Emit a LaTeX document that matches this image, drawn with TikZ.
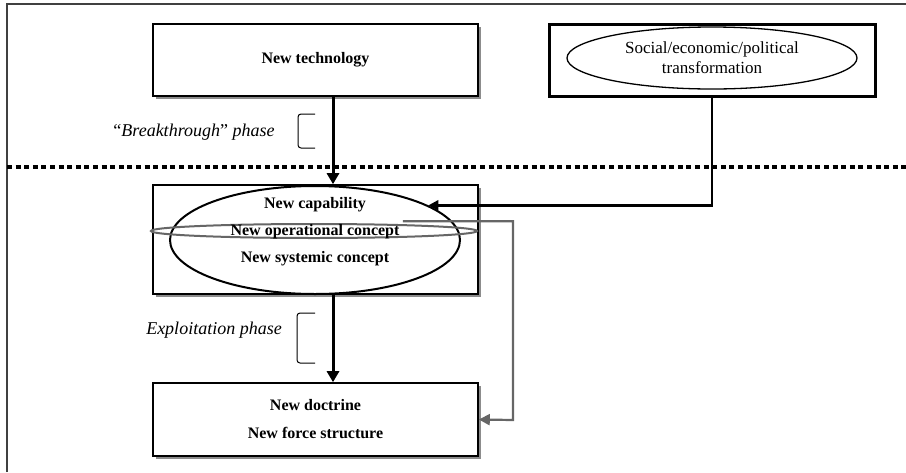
\documentclass[tikz,border=0pt]{standalone}
\usepackage{fontspec}
\setmainfont{Liberation Serif}
\usetikzlibrary{arrows.meta,shapes.geometric,shadows}

\begin{document}
\begin{tikzpicture}[x=1pt,y=-1pt,
    innBox/.style={draw,line width=1.6pt,fill=white,minimum width=325pt,
        drop shadow={shadow xshift=3pt,shadow yshift=-3pt,fill=black!45,opacity=1}},
    innTxt/.style={font=\fontsize{16}{19}\selectfont\bfseries},
    phaseTxt/.style={font=\fontsize{18}{21}\selectfont\itshape},
    phaseBrk/.style={line width=1pt,rounded corners=3pt},
    mainArr/.style={line width=3pt,-{Triangle[width=12pt,length=11pt]}},
    socArr/.style={line width=2.4pt,-{Triangle[width=10pt,length=10pt]}},
    grayArr/.style={draw=black!60,line width=2.2pt,-{Triangle[width=11pt,length=11pt]}},
    sepLine/.style={line width=4pt,dash pattern=on 5pt off 3.6pt},
]
\useasboundingbox (0,0) rectangle (906,472);
% Frame and phase border
\draw[line width=1.5pt,black!75] (7,472) -- (7,4) -- (906,4);
\draw[sepLine] (7,167) -- (906,167);
% Upper row
\node[innBox,minimum height=72pt,innTxt] (tech) at (315.5,60) {New technology};
\node[draw,line width=3pt,minimum width=326pt,minimum height=72pt] (socbox) at (712,60) {};
\node[ellipse,draw,line width=1.3pt,minimum width=290pt,minimum height=62pt,inner sep=0pt,
    align=center,font=\fontsize{17}{20}\selectfont] (socell) at (712,58) {Social/economic/political\\transformation};
% Capability box
\node[innBox,minimum height=109pt] (capbox) at (315.5,239.5) {};
\node[ellipse,draw,line width=2pt,minimum width=290pt,minimum height=108pt] (capell) at (315,240) {};
\node[ellipse,draw=black!60,line width=2pt,minimum width=326pt,minimum height=14pt,inner sep=0pt] (opell) at (314,231) {};
\node[innTxt] (captxt) at (315,205) {New capability};
\node[innTxt] (optxt) at (315,232) {New operational concept};
\node[innTxt] (systxt) at (315,259) {New systemic concept};
% Doctrine box
\node[innBox,minimum height=73pt,align=center,innTxt] (doc) at (315.5,419.5) {New doctrine\\[9pt]New force structure};
% Phases
\node[phaseTxt] (brk) at (194,132) {\upshape“\itshape Breakthrough\upshape”\itshape\ phase};
\draw[phaseBrk] (315,114) -- (298,114) -- (298,148) -- (315,148);
\node[phaseTxt] (expl) at (214,330) {Exploitation phase};
\draw[phaseBrk] (315,313) -- (297,313) -- (297,363) -- (315,363);
% Connectors
\draw[mainArr] ([xshift=17.5pt]tech.south) -- ([xshift=17.5pt]capbox.north);
\draw[mainArr] ([xshift=17.5pt]capbox.south) -- ([xshift=17.5pt]doc.north);
\draw[socArr] (socbox.south) |- (capell.17);
\coordinate (opturn) at (513,420);
\draw[grayArr] (optxt.north east) -| (opturn) -- (doc.east);
\end{tikzpicture}
\end{document}
